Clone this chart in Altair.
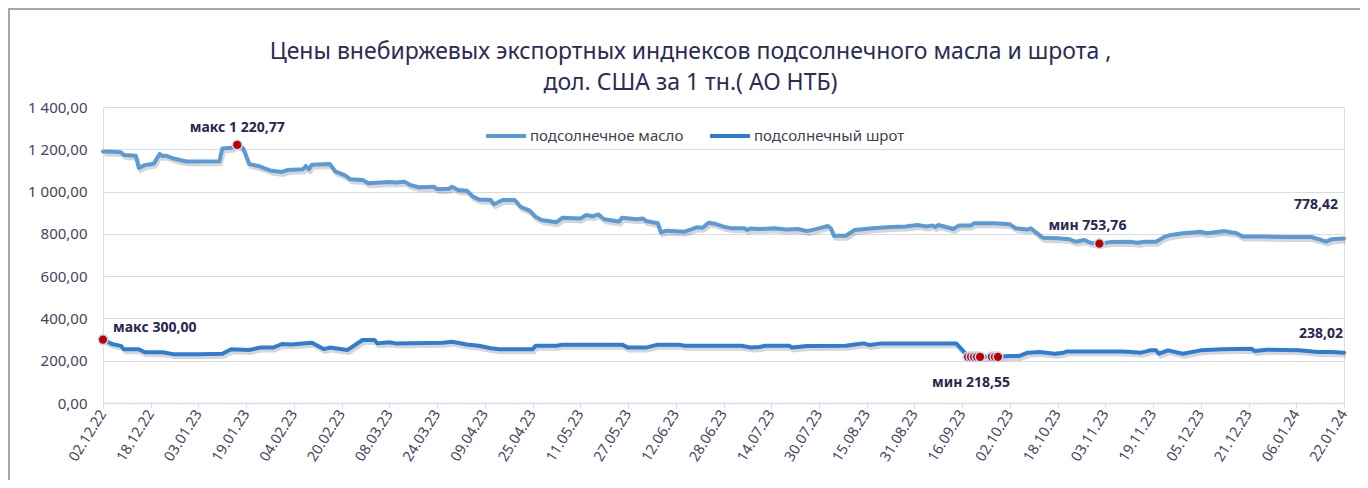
import altair as alt
import pandas as pd

FONT = "Noto Sans"

SERIES = ["подсолнечное масло", "подсолнечный шрот"]

oil_dates = [
    "2022-12-02", "2022-12-05", "2022-12-08", "2022-12-09", "2022-12-13", "2022-12-14", "2022-12-16",
    "2022-12-19", "2022-12-21", "2022-12-22", "2022-12-23", "2022-12-26", "2022-12-30", "2023-01-10",
    "2023-01-11", "2023-01-14", "2023-01-16", "2023-01-18", "2023-01-20", "2023-01-23", "2023-01-27",
    "2023-01-31", "2023-02-02", "2023-02-07", "2023-02-08", "2023-02-09", "2023-02-10", "2023-02-16",
    "2023-02-18", "2023-02-21", "2023-02-23", "2023-02-27", "2023-03-01", "2023-03-08", "2023-03-10",
    "2023-03-13", "2023-03-15", "2023-03-18", "2023-03-23", "2023-03-24", "2023-03-28", "2023-03-29",
    "2023-03-31", "2023-04-03", "2023-04-05", "2023-04-07", "2023-04-11", "2023-04-12", "2023-04-15",
    "2023-04-19", "2023-04-21", "2023-04-24", "2023-04-26", "2023-04-28", "2023-05-03", "2023-05-05",
    "2023-05-11", "2023-05-13", "2023-05-15", "2023-05-17", "2023-05-19", "2023-05-24", "2023-05-25",
    "2023-05-30", "2023-06-01", "2023-06-02", "2023-06-06", "2023-06-07", "2023-06-09", "2023-06-15",
    "2023-06-19", "2023-06-21", "2023-06-23", "2023-06-25", "2023-06-28", "2023-07-01", "2023-07-05",
    "2023-07-06", "2023-07-07", "2023-07-10", "2023-07-15", "2023-07-19", "2023-07-23", "2023-07-26",
    "2023-07-30", "2023-08-02", "2023-08-03", "2023-08-04", "2023-08-08", "2023-08-11", "2023-08-17",
    "2023-08-23", "2023-08-28", "2023-09-01", "2023-09-04", "2023-09-06", "2023-09-07", "2023-09-08",
    "2023-09-10", "2023-09-13", "2023-09-15", "2023-09-19", "2023-09-20", "2023-09-27", "2023-10-02",
    "2023-10-04", "2023-10-08", "2023-10-09", "2023-10-13", "2023-10-18", "2023-10-22", "2023-10-24",
    "2023-10-27", "2023-10-29", "2023-11-01", "2023-11-05", "2023-11-11", "2023-11-14", "2023-11-16",
    "2023-11-20", "2023-11-23", "2023-11-25", "2023-11-29", "2023-12-05", "2023-12-07", "2023-12-13",
    "2023-12-17", "2023-12-19", "2023-12-26", "2024-01-02", "2024-01-11", "2024-01-13", "2024-01-16",
    "2024-01-18", "2024-01-22",
]
oil_values = [
    1190, 1188, 1186, 1173, 1170, 1112, 1125,
    1132, 1178, 1168, 1170, 1155, 1142, 1143,
    1204, 1207, 1220.77, 1205, 1130, 1121, 1100,
    1093, 1102, 1105, 1121, 1105, 1127, 1130,
    1094, 1078, 1058, 1055, 1039, 1045, 1043,
    1047, 1031, 1020, 1023, 1011, 1013, 1023,
    1007, 1004, 976, 963, 960, 940, 960,
    960, 928, 910, 881, 866, 855, 876,
    873, 889, 883, 892, 869, 858, 876,
    869, 873, 861, 850, 807, 815, 810,
    831, 829, 853, 848, 834, 826, 826,
    818, 825, 823, 826, 821, 823, 813,
    826, 837, 826, 791, 791, 818, 826,
    832, 835, 842, 835, 840, 832, 842,
    835, 823, 840, 840, 850, 850, 845,
    826, 821, 826, 782, 779, 774, 763,
    771, 758, 753.76, 761, 763, 758, 763,
    763, 787, 795, 803, 810, 803, 813,
    803, 787, 787, 785, 785, 777, 763,
    775, 778.42,
]

meal_dates = [
    "2022-12-02", "2022-12-05", "2022-12-08", "2022-12-09", "2022-12-14", "2022-12-16", "2022-12-22",
    "2022-12-26", "2023-01-03", "2023-01-11", "2023-01-14", "2023-01-20", "2023-01-24", "2023-01-28",
    "2023-01-31", "2023-02-03", "2023-02-10", "2023-02-14", "2023-02-16", "2023-02-22", "2023-02-27",
    "2023-03-03", "2023-03-04", "2023-03-08", "2023-03-10", "2023-03-26", "2023-03-29", "2023-04-03",
    "2023-04-07", "2023-04-11", "2023-04-14", "2023-04-25", "2023-04-26", "2023-05-03", "2023-05-05",
    "2023-05-25", "2023-05-27", "2023-06-02", "2023-06-06", "2023-06-13", "2023-06-15", "2023-07-04",
    "2023-07-07", "2023-07-10", "2023-07-12", "2023-07-20", "2023-07-21", "2023-07-26", "2023-08-08",
    "2023-08-11", "2023-08-14", "2023-08-16", "2023-08-20", "2023-09-14", "2023-09-16", "2023-09-18",
    "2023-09-19", "2023-09-20", "2023-09-21", "2023-09-22", "2023-09-26", "2023-09-27", "2023-09-28",
    "2023-10-02", "2023-10-05", "2023-10-08", "2023-10-12", "2023-10-17", "2023-10-20", "2023-10-21",
    "2023-11-09", "2023-11-15", "2023-11-18", "2023-11-20", "2023-11-21", "2023-11-24", "2023-11-29",
    "2023-12-05", "2023-12-12", "2023-12-22", "2023-12-23", "2023-12-27", "2024-01-07", "2024-01-13",
    "2024-01-18", "2024-01-22",
]
meal_values = [
    300, 279, 270, 254, 254, 240, 240,
    230, 230, 233, 254, 251, 263, 262,
    279, 277, 285, 255, 262, 251, 298,
    298, 282, 287, 282, 285, 290, 277,
    271, 259, 254, 254, 271, 271, 276,
    276, 262, 262, 276, 276, 271, 271,
    263, 265, 271, 271, 263, 270, 271,
    277, 282, 274, 282, 282, 251, 218.55,
    218.55, 218.55, 218.55, 218.55, 218.55, 218.55, 218.55,
    222, 222, 238, 241, 233, 238, 243,
    244, 238, 249, 249, 233, 249, 233,
    249, 254, 257, 246, 252, 249, 241,
    241, 238.02,
]

tick_labels = [
    "02.12.22", "18.12.22", "03.01.23", "19.01.23", "04.02.23", "20.02.23", "08.03.23",
    "24.03.23", "09.04.23", "25.04.23", "11.05.23", "27.05.23", "12.06.23", "28.06.23",
    "14.07.23", "30.07.23", "15.08.23", "31.08.23", "16.09.23", "02.10.23", "18.10.23",
    "03.11.23", "19.11.23", "05.12.23", "21.12.23", "06.01.24", "22.01.24",
]
y_ticks = [0, 200, 400, 600, 800, 1000, 1200, 1400]

ann_text = ["макс 1 220,77", "мин 753,76", "778,42", "макс 300,00", "мин 218,55", "238,02"]
ann_dates = ["2023-01-16", "2023-11-01", "2024-01-22", "2022-12-02", "2023-09-18", "2024-01-22"]
ann_values = [1220.77, 753.76, 778.42, 300.00, 218.55, 238.02]
ann_style = [
    dict(align="center", dx=0, dy=-17),
    dict(align="center", dx=-12, dy=-18),
    dict(align="right", dx=-6, dy=-33),
    dict(align="left", dx=10, dy=-12),
    dict(align="center", dx=3, dy=26),
    dict(align="right", dx=-1, dy=-19),
]

TITLE = ["Цены внебиржевых экспортных инднексов подсолнечного масла и шрота ,",
         "дол. США за 1 тн.( АО НТБ)"]

# ---- data tables
df = pd.concat([
    pd.DataFrame({"date": oil_dates, "value": oil_values, "series": SERIES[0]}),
    pd.DataFrame({"date": meal_dates, "value": meal_values, "series": SERIES[1]}),
], ignore_index=True)

oil_max = max(oil_values)
oil_min = min(oil_values)
meal_max = max(meal_values)
meal_min = min(meal_values)
hl = df[((df.series == SERIES[0]) & ((df.value == oil_max) | (df.value == oil_min))) |
        ((df.series == SERIES[1]) & ((df.value == meal_max) | (df.value == meal_min)))]


def lab2dt(s):
    return alt.DateTime(year=2000 + int(s[6:8]), month=int(s[3:5]), date=int(s[0:2]), utc=True)


tick_dt = [lab2dt(t) for t in tick_labels]

LABEL_COLOR = "#44445E"
GRID = "#DADAEC"

x_enc = alt.X(
    "date:T",
    scale=alt.Scale(type="utc", domain=[tick_dt[0], tick_dt[-1]], nice=False),
    axis=alt.Axis(values=tick_dt, labelExpr="utcFormat(datum.value, '%d.%m.%y')", labelAngle=-58,
                  labelAlign="right", labelBaseline="middle", labelFontSize=14.5, labelFont=FONT,
                  labelColor=LABEL_COLOR, domainColor=GRID, domainWidth=1.5, tickColor=GRID,
                  tickSize=5, grid=False, title=None, labelPadding=3, labelOverlap=False),
)
y_enc = alt.Y(
    "value:Q",
    scale=alt.Scale(domain=[0, 1400], nice=False),
    axis=alt.Axis(values=y_ticks,
                  labelExpr="replace(replace(format(datum.value, ',.2f'), ',', ' '), '.', ',')",
                  domain=False, ticks=False, grid=True, gridColor=GRID, gridWidth=1,
                  labelFontSize=15, labelFont=FONT, labelColor=LABEL_COLOR, labelPadding=16,
                  title=None),
)

shadow = alt.Chart(df).mark_line(strokeWidth=4, color="#000000", opacity=0.16,
                                 xOffset=1.5, yOffset=3, strokeJoin="round").encode(
    x=x_enc, y=y_enc, detail="series:N")

lines = alt.Chart(df).mark_line(strokeWidth=4, strokeJoin="round", strokeCap="round").encode(
    x=x_enc, y=y_enc,
    color=alt.Color("series:N",
                    scale=alt.Scale(domain=SERIES, range=["#5B9BD5", "#2E7DD3"]),
                    legend=alt.Legend(title=None, orient="none", legendX=381, legendY=7,
                                      direction="horizontal", symbolType="stroke",
                                      symbolStrokeWidth=4, symbolSize=1600,
                                      labelFontSize=15, labelFont=FONT, labelColor="#404050",
                                      columnPadding=18, labelOffset=2)),
)

dots = alt.Chart(hl).mark_circle(color="#C00000", stroke="#C5D9F1", strokeWidth=1.5,
                                 size=95, opacity=1).encode(x=x_enc, y=y_enc)

layers = [shadow, lines, dots]
for t, d, v, st in zip(ann_text, ann_dates, ann_values, ann_style):
    adf = pd.DataFrame({"date": [d], "value": [v], "label": [t]})
    layers.append(
        alt.Chart(adf).mark_text(font=FONT, fontSize=14, fontWeight="bold", color="#262650",
                                 align=st["align"], baseline="middle", dx=st["dx"], dy=st["dy"]).encode(
            x=x_enc, y=y_enc, text="label:N")
    )

frame = alt.Chart(pd.DataFrame({"a": [0]})).mark_rect(filled=False, stroke="#A6A6A6",
                                                       strokeWidth=2).encode(
    x=alt.value(-94), x2=alt.value(1400), y=alt.value(-98), y2=alt.value(520))
layers.append(frame)

chart = alt.layer(*layers).properties(
    width=1241, height=296,
    autosize=alt.AutoSizeParams(type="none"),
    padding={"left": 95, "top": 99, "right": 16, "bottom": 77},
    title=alt.TitleParams(text=TITLE, font=FONT, fontSize=23, fontWeight="normal",
                          color="#2B2B55", anchor="middle", frame="group", dx=-33,
                          offset=-87, lineHeight=31),
).configure_view(stroke=None).configure(background="white")

chart.save("out.html", embed_options={"renderer": "svg", "actions": False})
